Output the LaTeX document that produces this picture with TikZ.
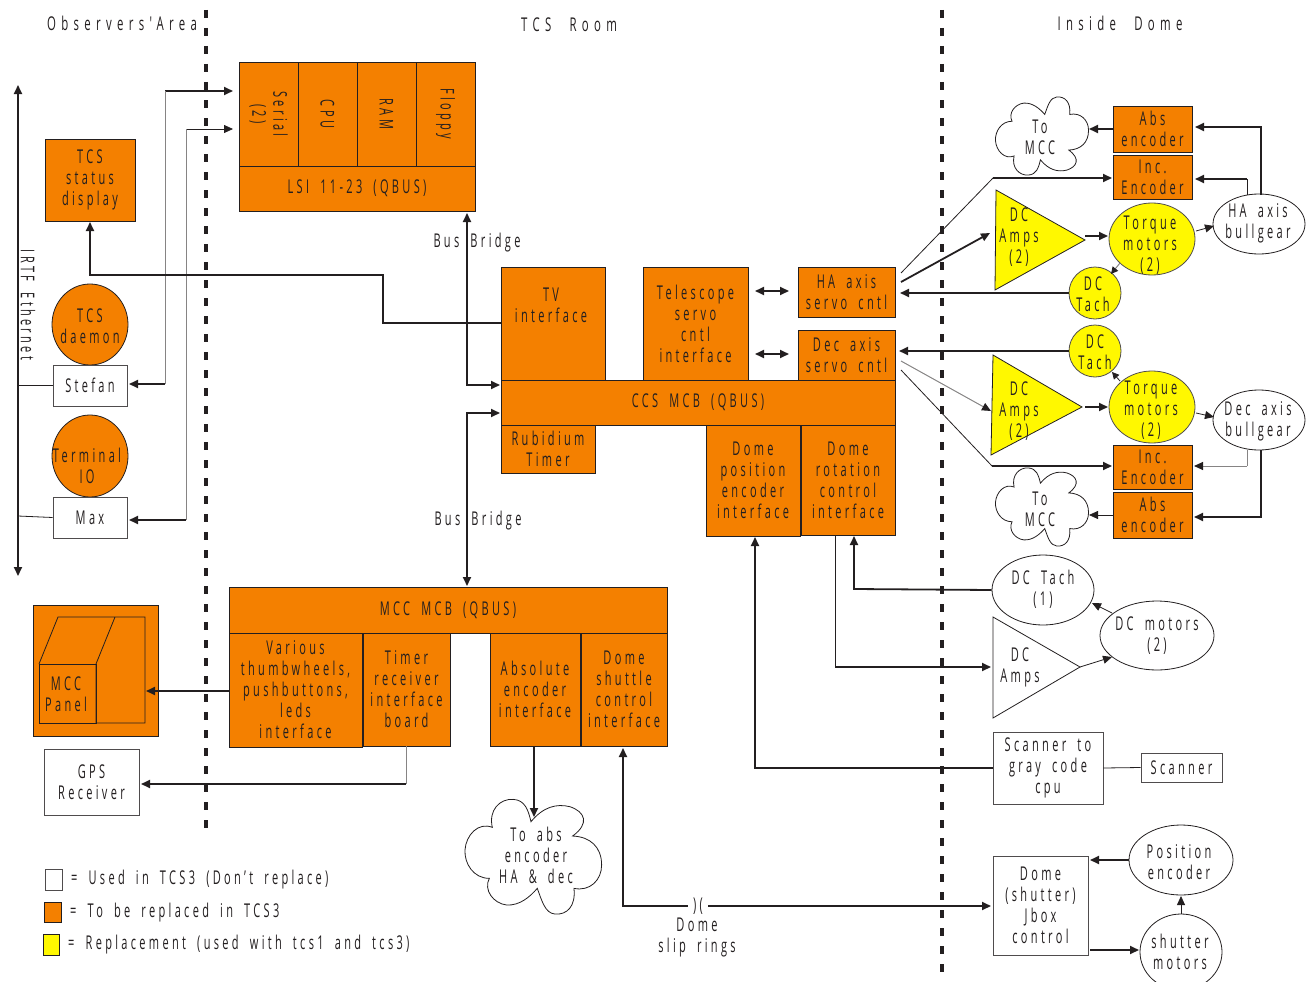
\documentclass[tikz,border=0pt]{standalone}
\usepackage{fontspec}
\setmainfont{Open Sans}[FakeStretch=0.58,LetterSpace=17.5,WordSpace=1.8]
\newfontfamily\headfont{Open Sans}[FakeStretch=0.6,LetterSpace=28,WordSpace=2.2]
\usetikzlibrary{positioning,arrows.meta,shapes.geometric}
\definecolor{ink}{HTML}{231f20}
\definecolor{tcsorange}{HTML}{f48000}
\definecolor{tcsyellow}{HTML}{fff800}
\newcommand{\tcscloud}[4]{\draw[line width=0.8pt,draw=ink,shift={(#1,#2)},xscale=#3,yscale=#4]
  (-7,-105) .. controls (30,-150) and (70,-160) .. (110,-150) .. controls (155,-135) and (170,-100) .. (118,-62)
  .. controls (170,-60) and (205,-30) .. (205,25) .. controls (205,70) and (170,105) .. (122,95)
  .. controls (128,150) and (100,175) .. (65,172) .. controls (35,170) and (25,130) .. (12,95)
  .. controls (-10,120) and (-40,147) .. (-80,145) .. controls (-120,140) and (-150,100) .. (-132,65)
  .. controls (-180,65) and (-207,20) .. (-205,-20) .. controls (-202,-65) and (-165,-105) .. (-123,-88)
  .. controls (-135,-140) and (-100,-175) .. (-60,-172) .. controls (-25,-170) and (-15,-140) .. (-7,-105) -- cycle;}
\begin{document}
\begin{tikzpicture}[x=1pt,y=-1pt,
  font=\fontsize{19}{21}\selectfont,text=ink,
  sz/.style 2 args={minimum width=#1pt,minimum height=#2pt,inner sep=0pt,align=center},
  obox/.style={draw=ink,line width=0.8pt,fill=tcsorange},
  wbox/.style={draw=ink!80,line width=0.8pt,fill=white},
  oell/.style={ellipse,draw=ink,line width=0.8pt,fill=tcsorange},
  yell/.style={ellipse,draw=ink!80,line width=0.8pt,fill=tcsyellow},
  well/.style={ellipse,draw=ink,line width=0.8pt,fill=white},
  lbl/.style={inner sep=0pt,align=center},
  head/.style={inner sep=0pt,font=\fontsize{19}{21}\headfont},
  wire/.style={draw=ink,line width=1.8pt},
  fine/.style={draw=ink,line width=0.8pt},
  pale/.style={draw=ink!55,line width=1pt},
  border/.style={draw=ink,line width=4pt,dash pattern=on 8pt off 10pt},
  >={Triangle[length=9pt,width=8pt,color=ink]}]
  \useasboundingbox (0,0) rectangle (1312,982);
  \coordinate (b1t) at (206,10); \coordinate (b1b) at (206,832);
  \coordinate (b2t) at (942,10); \coordinate (b2b) at (942,976);
  \draw[border] (b1t)--(b1b);
  \draw[border] (b2t)--(b2b);
  \node[head] (hobs) at (122,23) {Observers'Area};
  \node[head] (htcs) at (569,25) {TCS Room};
  \node[head] (hdome) at (1120,23) {Inside Dome};
  % observers area
  \coordinate (ethT) at (18,85); \coordinate (ethB) at (18,576);
  \draw[wire,<->] (ethT)--(ethB);
  \node[lbl,rotate=-90] (eth) at (28,305) {IRTF Ethernet};
  \node[obox,sz={90}{82}] (status) at (90,180) {TCS\\status\\display};
  \node[oell,sz={76}{81}] (daemon) at (90,324.5) {};
  \node[lbl] (daemontxt) at (90,326) {TCS\\daemon};
  \node[wbox,sz={74}{41}] (stefan) at (90,385.5) {Stefan};
  \node[oell,sz={76}{82}] (term) at (90,456) {};
  \node[lbl] (termtxt) at (87,466) {Terminal\\IO};
  \node[wbox,sz={74}{41}] (max) at (90,517.5) {Max};
  \draw[wire] (stefan.west)--(stefan.west-|ethT);
  \draw[fine] (max.west)--(18,516);
  % lsi
  \node[obox,sz={104}{59},rotate=-90] (serial) at (268.5,114) {Serial\\(2)};
  \node[obox,sz={104}{59},rotate=-90] (cpu) at (327.5,114) {CPU};
  \node[obox,sz={104}{59},rotate=-90] (ram) at (386.5,114) {RAM};
  \node[obox,sz={104}{59},rotate=-90] (floppy) at (445.5,114) {Floppy};
  \node[obox,sz={236}{45}] (lsibus) at (357,188.5) {LSI 11-23 (QBUS)};
  \coordinate (s1) at (233,91); \coordinate (s1c) at (165,91); \coordinate (s1d) at (165,384);
  \coordinate (s2) at (233,129); \coordinate (s2c) at (186,129); \coordinate (s2d) at (186,520);
  \coordinate (stefanE) at (129,384); \coordinate (maxE) at (129,520);
  \draw[wire,->] (s1c)--(s1);
  \draw[pale] (s1c)--(s1d);
  \draw[wire,->] (s1d)--(stefanE);
  \draw[fine,->] (s2c)--(s2);
  \draw[pale] (s2c)--(s2d);
  \draw[wire,->] (s2d)--(maxE);
  % ccs
  \node[obox,sz={104}{113}] (tv) at (553,323.5) {};
  \node[lbl] (tvtxt) at (551,305) {TV\\interface};
  \node[obox,sz={105}{113}] (servoif) at (695.5,323.5) {Telescope\\servo\\cntl\\interface};
  \node[obox,sz={394}{45}] (ccs) at (698,402.5) {CCS MCB (QBUS)};
  \node[obox,sz={94}{48}] (rub) at (548,449) {Rubidium\\Timer};
  \node[obox,sz={94}{111}] (domepos) at (753,480.5) {Dome\\position\\encoder\\interface};
  \node[obox,sz={94}{110}] (domerot) at (848,480) {Dome\\rotation\\control\\interface};
  \node[obox,sz={97}{50}] (haservo) at (846.5,292) {HA axis\\servo cntl};
  \node[obox,sz={97}{50}] (decservo) at (846.5,355) {Dec axis\\servo cntl};
  \coordinate (stat) at (90,222); \coordinate (tv1) at (90,275); \coordinate (tv2) at (383,275); \coordinate (tv3) at (383,323);
  \draw[wire,->] (tv.west|-tv3)--(tv3)--(tv2)--(tv1)--(stat);
  \coordinate (brT) at (467,213); \coordinate (brM) at (467,385); \coordinate (brN) at (467,413); \coordinate (brB) at (467,586);
  \coordinate (ccsA) at (500,385); \coordinate (ccsB) at (500,413);
  \draw[wire,<->] (brT)--(brM)--(ccsA);
  \draw[wire,<->] (ccsB)--(brN)--(brB);
  \node[lbl] (bridge1) at (477,243) {Bus Bridge};
  \node[lbl] (bridge2) at (478,521) {Bus Bridge};
  \coordinate (hsL) at (755,291); \coordinate (hsR) at (789,291);
  \coordinate (dsL) at (755,354); \coordinate (dsR) at (789,354);
  \draw[wire,<->] (hsL)--(hsR);
  \draw[wire,<->] (dsL)--(dsR);
  % ha axis
  \tcscloud{1042}{136}{0.227}{-0.227}
  \node[lbl] (mcc1) at (1040,137) {To\\MCC};
  \node[obox,sz={79}{46}] (abs1) at (1152.5,129) {Abs\\encoder};
  \node[obox,sz={79}{44}] (inc1) at (1152.5,177) {Inc.\\Encoder};
  \node[well,sz={92}{60}] (bull1) at (1259,224) {};
  \node[lbl] (bull1txt) at (1258,223) {HA axis\\bullgear};
  \draw[fill=tcsyellow,fine] (996,190)--(1085,240)--(995,290)--cycle;
  \node[lbl] (amps1) at (1019,237) {DC\\Amps\\(2)};
  \node[yell,sz={86}{72}] (torq1) at (1152,239) {};
  \node[lbl] (torq1txt) at (1150,245) {Torque\\motors\\(2)};
  \node[yell,sz={52}{52}] (tach1) at (1095,293) {};
  \node[lbl] (tach1txt) at (1093,294) {DC\\Tach};
  \coordinate (mcc1R) at (1089,129); \coordinate (a1R) at (1195,127); \coordinate (i1R) at (1195,179);
  \coordinate (b1a) at (1261,194.5); \coordinate (b1i) at (1247,195);
  \draw[wire,->] (abs1.west)--(mcc1R);
  \draw[wire,->] (b1a)--(b1a|-a1R)--(a1R);
  \draw[fine] (b1i)--(b1i|-i1R);
  \draw[wire,->] (b1i|-i1R)--(i1R);
  \coordinate (amp1T) at (1085,236); \coordinate (torq1L) at (1108,236);
  \draw[wire,->] (amp1T)--(torq1L);
  \coordinate (torq1R) at (1196,231); \coordinate (bull1L) at (1214,226);
  \draw[fine,->] (torq1R)--(bull1L);
  \coordinate (torq1B) at (1120,263); \coordinate (tach1T) at (1111,274);
  \draw[pale,-{Triangle[length=7pt,width=7pt,color=ink]}] (torq1B)--(tach1T);
  \coordinate (tach1R) at (900,293);
  \draw[wire,->] (tach1.west)--(tach1R);
  \coordinate (hs1) at (901,273); \coordinate (hs2) at (901,282); \coordinate (hk) at (993,178);
  \coordinate (ampIn1) at (990,233); \coordinate (incIn1) at (1112,178);
  \draw[fine] (hs1)--(hk);
  \draw[wire,->] (hk)--(incIn1);
  \draw[wire,->] (hs2)--(ampIn1);
  % dec axis
  \node[yell,sz={52}{52}] (tach2) at (1095,351) {};
  \node[lbl] (tach2txt) at (1095,352) {DC\\Tach};
  \draw[fill=tcsyellow,fine] (993,355)--(1082,407)--(991,455)--cycle;
  \node[lbl] (amps2) at (1019,411) {DC\\Amps\\(2)};
  \node[yell,sz={86}{72}] (torq2) at (1152,407) {};
  \node[lbl] (torq2txt) at (1151,410) {Torque\\motors\\(2)};
  \node[well,sz={92}{60}] (bull2) at (1259,420) {};
  \node[lbl] (bull2txt) at (1258,421) {Dec axis\\bullgear};
  \node[obox,sz={79}{44}] (inc2) at (1152.5,467) {Inc.\\Encoder};
  \node[obox,sz={79}{46}] (abs2) at (1152.5,515) {Abs\\encoder};
  \tcscloud{1042}{507}{0.227}{0.227}
  \node[lbl] (mcc2) at (1040,509) {To\\MCC};
  \coordinate (tach2R) at (899,351);
  \draw[wire,->] (tach2.west)--(tach2R);
  \coordinate (amp2T) at (1085,407); \coordinate (torq2L) at (1108,407);
  \draw[wire,->] (amp2T)--(torq2L);
  \coordinate (torq2R) at (1196,413); \coordinate (bull2L) at (1214,417);
  \draw[fine,->] (torq2R)--(bull2L);
  \coordinate (torq2T) at (1120,381); \coordinate (tach2B) at (1112,372);
  \draw[fine,-{Triangle[length=7pt,width=7pt]}] (torq2T)--(tach2B);
  \coordinate (ds1) at (901,361); \coordinate (ds2) at (901,370); \coordinate (dk) at (992,466);
  \coordinate (ampIn2) at (991,411); \coordinate (incIn2) at (1112,466);
  \draw[pale,->] (ds1)--(ampIn2);
  \draw[fine] (ds2)--(dk);
  \draw[wire,->] (dk)--(incIn2);
  \coordinate (b2i) at (1247,449.5); \coordinate (b2a) at (1261,450); \coordinate (i2R) at (1194,466); \coordinate (a2R) at (1194,517);
  \draw[pale] (b2i)--(b2i|-i2R);
  \draw[pale,->] (b2i|-i2R)--(i2R);
  \draw[wire,->] (b2a)--(b2a|-a2R)--(a2R);
  \coordinate (mcc2R) at (1089,515);
  \draw[fine,->] (abs2.west)--(mcc2R);
  % dome motors
  \node[well,sz={102}{70}] (dctach) at (1043,590) {};
  \node[lbl] (dctachtxt) at (1043,589) {DC Tach\\(1)};
  \node[well,sz={114}{69}] (dcmot) at (1157,635.5) {};
  \node[lbl] (dcmottxt) at (1157,636) {DC motors\\(2)};
  \draw[fill=white,fine] (993,617)--(1080,667)--(993,718)--cycle;
  \node[lbl] (amps3) at (1020,667) {DC\\Amps};
  \coordinate (rotB) at (835,535); \coordinate (rk) at (835,667); \coordinate (ampIn3) at (991,667);
  \draw[fine] (rotB)--(rk);
  \draw[wire,->] (rk)--(ampIn3);
  \coordinate (tk) at (854,589); \coordinate (rotIn) at (854,536);
  \draw[wire,->] (dctach.west)--(tk)--(rotIn);
  \coordinate (mT) at (1112,613); \coordinate (tR) at (1092,603);
  \draw[fine,->] (mT)--(tR);
  \coordinate (aT) at (1080,667); \coordinate (mL) at (1112,657);
  \draw[fine,->] (aT)--(mL);
  \node[wbox,sz={110}{72}] (scancpu) at (1048,768) {Scanner to\\gray code\\cpu};
  \node[wbox,sz={81}{29}] (scanner) at (1181.5,767.5) {Scanner};
  \draw[fine] (scancpu.east)--(scanner.west);
  \coordinate (sk) at (755,768); \coordinate (posIn) at (755,537);
  \draw[wire,->] (scancpu.west)--(sk)--(posIn);
  \node[wbox,sz={95}{99}] (jbox) at (1040.5,905.5) {Dome\\(shutter)\\Jbox\\control};
  \node[well,sz={104}{70}] (posenc) at (1181,860) {};
  \node[lbl] (posenctxt) at (1179,862) {Position\\encoder};
  \node[well,sz={82}{76}] (shutmot) at (1181,952) {};
  \node[lbl] (shutmottxt) at (1180,952) {shutter\\motors};
  \coordinate (jT) at (1090,860); \coordinate (jB) at (1090,950); \coordinate (shL) at (1139,950);
  \draw[wire,->] (posenc.west|-jT)--(jT);
  \draw[wire,->] (jB)--(shL);
  \coordinate (posB) at (1181,896);
  \draw[fine,->] (shutmot.north)--(posB);
  % mcc
  \node[obox,sz={438}{46}] (mccmcb) at (448,610) {MCC MCB (QBUS)};
  \node[obox,sz={133}{114}] (various) at (295.5,690) {Various\\thumbwheels,\\pushbuttons,\\leds\\interface};
  \node[obox,sz={87}{113}] (timer) at (406.5,689.5) {Timer\\receiver\\interface\\board};
  \node[obox,sz={90}{113}] (absol) at (535,689.5) {Absolute\\encoder\\interface};
  \node[obox,sz={86}{113}] (shuttle) at (624,689.5) {Dome\\shuttle\\control\\interface};
  \node[obox,sz={125}{131}] (panel) at (95.5,670.5) {};
  \draw[fine] (39,664)--(58,617)--(145,617)--(145,723)--(96,723)--(96,664)--(115,617);
  \draw[fine] (39,664) rectangle (96,723);
  \node[lbl] (paneltxt) at (66,694) {MCC\\Panel};
  \node[wbox,sz={95}{66}] (gps) at (91.5,782) {GPS\\Receiver};
  \coordinate (pR) at (146,691);
  \draw[wire,->] (various.west|-pR)--(pR);
  \coordinate (tmB) at (406,746); \coordinate (tmK) at (406,784); \coordinate (gpsR) at (141,784);
  \draw[pale] (tmB)--(tmK);
  \draw[wire,->] (tmK)--(gpsR);
  \tcscloud{533.3}{856.7}{0.3333}{0.3333}
  \node[lbl] (cloudtxt) at (536,855) {To abs\\encoder\\HA \& dec};
  \coordinate (absB) at (534,746); \coordinate (clT) at (534,817);
  \draw[wire,->] (absB)--(clT);
  \node[lbl,minimum width=20pt] (slip) at (698,906) {)(};
  \node[lbl] (sliptxt) at (697,937) {Dome\\slip rings};
  \coordinate (sk2) at (623,906); \coordinate (shIn) at (623,748); \coordinate (jL) at (991,906);
  \draw[wire,->] (slip.west)--(sk2)--(shIn);
  \draw[wire,->] (slip.east)--(jL);
  % key
  \node[wbox,sz={17}{21}] (key1) at (53.5,879.5) {};
  \node[obox,sz={17}{20}] (key2) at (52.5,912) {};
  \node[obox,fill=tcsyellow,sz={16}{21}] (key3) at (51,944.5) {};
  \node[lbl,anchor=west] (key1txt) at (71,880) {= Used in TCS3 (Don't replace)};
  \node[lbl,anchor=west] (key2txt) at (70,913) {= To be replaced in TCS3};
  \node[lbl,anchor=west] (key3txt) at (68,945) {= Replacement (used with tcs1 and tcs3)};
\end{tikzpicture}
\end{document}
